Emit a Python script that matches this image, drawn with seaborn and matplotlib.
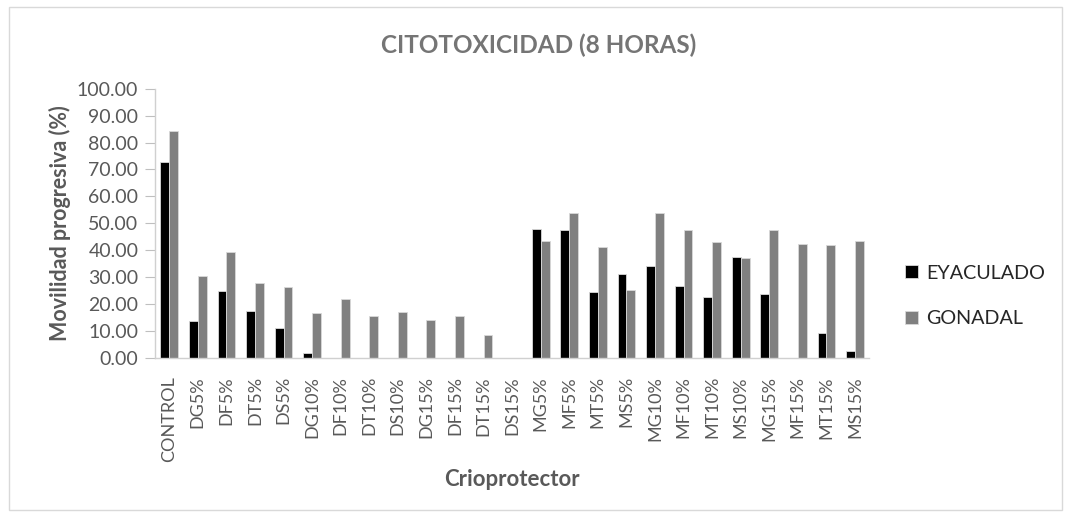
import pandas as pd
import seaborn as sns
import matplotlib.pyplot as plt
from matplotlib.patches import Rectangle

# data
categorias = ['CONTROL', 'DG5%', 'DF5%', 'DT5%', 'DS5%', 'DG10%', 'DF10%', 'DT10%',
              'DS10%', 'DG15%', 'DF15%', 'DT15%', 'DS15%', 'MG5%', 'MF5%', 'MT5%',
              'MS5%', 'MG10%', 'MF10%', 'MT10%', 'MS10%', 'MG15%', 'MF15%', 'MT15%', 'MS15%']
eyaculado = [72.7, 13.8, 24.9, 17.3, 11.3, 1.7, 0, 0, 0, 0, 0, 0, 0,
             47.9, 47.5, 24.4, 31.3, 34.2, 26.6, 22.7, 37.6, 23.6, 0, 9.4, 2.6]
gonadal = [84.2, 30.4, 39.5, 27.9, 26.2, 16.7, 21.8, 15.5, 17.1, 14.3, 15.5, 8.7, 0,
           43.3, 53.9, 41.4, 25.3, 53.9, 47.4, 43.2, 37.2, 47.4, 42.3, 41.9, 43.5]
series = ['EYACULADO', 'GONADAL']
colores = ['#000000', '#808080']

df = pd.DataFrame({'Crioprotector': categorias * 2,
                   'valor': eyaculado + gonadal,
                   'serie': [series[0]] * len(categorias) + [series[1]] * len(categorias)})

sns.set_style('white')
plt.rcParams['font.family'] = ['Lato', 'DejaVu Sans']

fig = plt.figure(figsize=(10.66, 5.17), dpi=100)
ax = fig.add_axes([0.1454, 0.3075, 0.670, 0.521])

sns.barplot(data=df, x='Crioprotector', y='valor', hue='serie', palette=colores,
            width=0.62, edgecolor='#d9d9d9', linewidth=0.6, ax=ax)

ax.set_ylim(0, 100)
ax.set_yticks(range(0, 101, 10))
ax.set_yticklabels([f'{v:.2f}' for v in range(0, 101, 10)])
ax.set_xlim(-0.5, len(categorias) - 0.5)
ax.tick_params(axis='y', labelsize=14, colors='#595959', length=7, width=0.8, pad=5,
               left=True, color='#bfbfbf')
ax.tick_params(axis='x', labelsize=13, colors='#595959', rotation=90, length=0, pad=13)

for s in ['top', 'right']:
    ax.spines[s].set_visible(False)
for s in ['left', 'bottom']:
    ax.spines[s].set_color('#d0d0d0')
    ax.spines[s].set_linewidth(1.0)

ax.set_ylabel('Movilidad progresiva (%)', fontsize=15.5, fontweight='bold', color='#595959', labelpad=4)
ax.set_xlabel('Crioprotector', fontsize=16, fontweight='bold', color='#595959', labelpad=5)
fig.text(0.505, 0.912, 'CITOTOXICIDAD (8 HORAS)', fontsize=17.5, fontweight='bold',
         color='#757575', ha='center', va='center')

ax.legend(loc='center left', bbox_to_anchor=(1.025, 0.23), frameon=False, fontsize=14.2,
          handlelength=0.65, handleheight=0.65, handletextpad=0.45, labelspacing=1.45,
          labelcolor='#262626', title=None)

fig.patches.append(Rectangle((0.008, 0.014), 0.988, 0.972, transform=fig.transFigure,
                             fill=False, edgecolor='#d9d9d9', linewidth=1))

fig.savefig('out.png', dpi=100)
